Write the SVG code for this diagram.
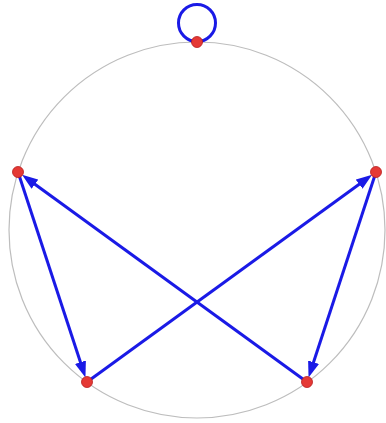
<svg xmlns="http://www.w3.org/2000/svg" width="386" height="423" viewBox="0 0 386 423">
<defs>
<style>
.edge{stroke:#1a1ae6;stroke-width:3;fill:none}
.node{fill:#e53935;stroke:#b71c1c;stroke-width:0.8}
.ring{fill:none;stroke:#bdbdbd;stroke-width:1.2}
</style>
<marker id="ah" markerUnits="userSpaceOnUse" markerWidth="16" markerHeight="12" refX="6" refY="5" orient="auto" viewBox="0 0 14 10">
<path d="M0,0 L14,5 L0,10 z" fill="#1a1ae6"/>
</marker>
</defs>
<rect width="386" height="423" fill="#ffffff"/>
<circle class="ring" cx="197" cy="230" r="188"/>
<g id="connectors">
<circle class="edge" cx="197" cy="23" r="18.5"/>
<line class="edge" x1="18" y1="172" x2="82.6" y2="368.7" marker-end="url(#ah)"/>
<line class="edge" x1="376" y1="172" x2="311.4" y2="368.7" marker-end="url(#ah)"/>
<line class="edge" x1="87" y1="382" x2="364.7" y2="180.2" marker-end="url(#ah)"/>
<line class="edge" x1="307" y1="382" x2="29.4" y2="180.2" marker-end="url(#ah)"/>
</g>
<g id="n0"><circle class="node" cx="197" cy="42" r="5.5"/></g>
<g id="n1"><circle class="node" cx="376" cy="172" r="5.5"/></g>
<g id="n2"><circle class="node" cx="307" cy="382" r="5.5"/></g>
<g id="n3"><circle class="node" cx="87" cy="382" r="5.5"/></g>
<g id="n4"><circle class="node" cx="18" cy="172" r="5.5"/></g>
</svg>
